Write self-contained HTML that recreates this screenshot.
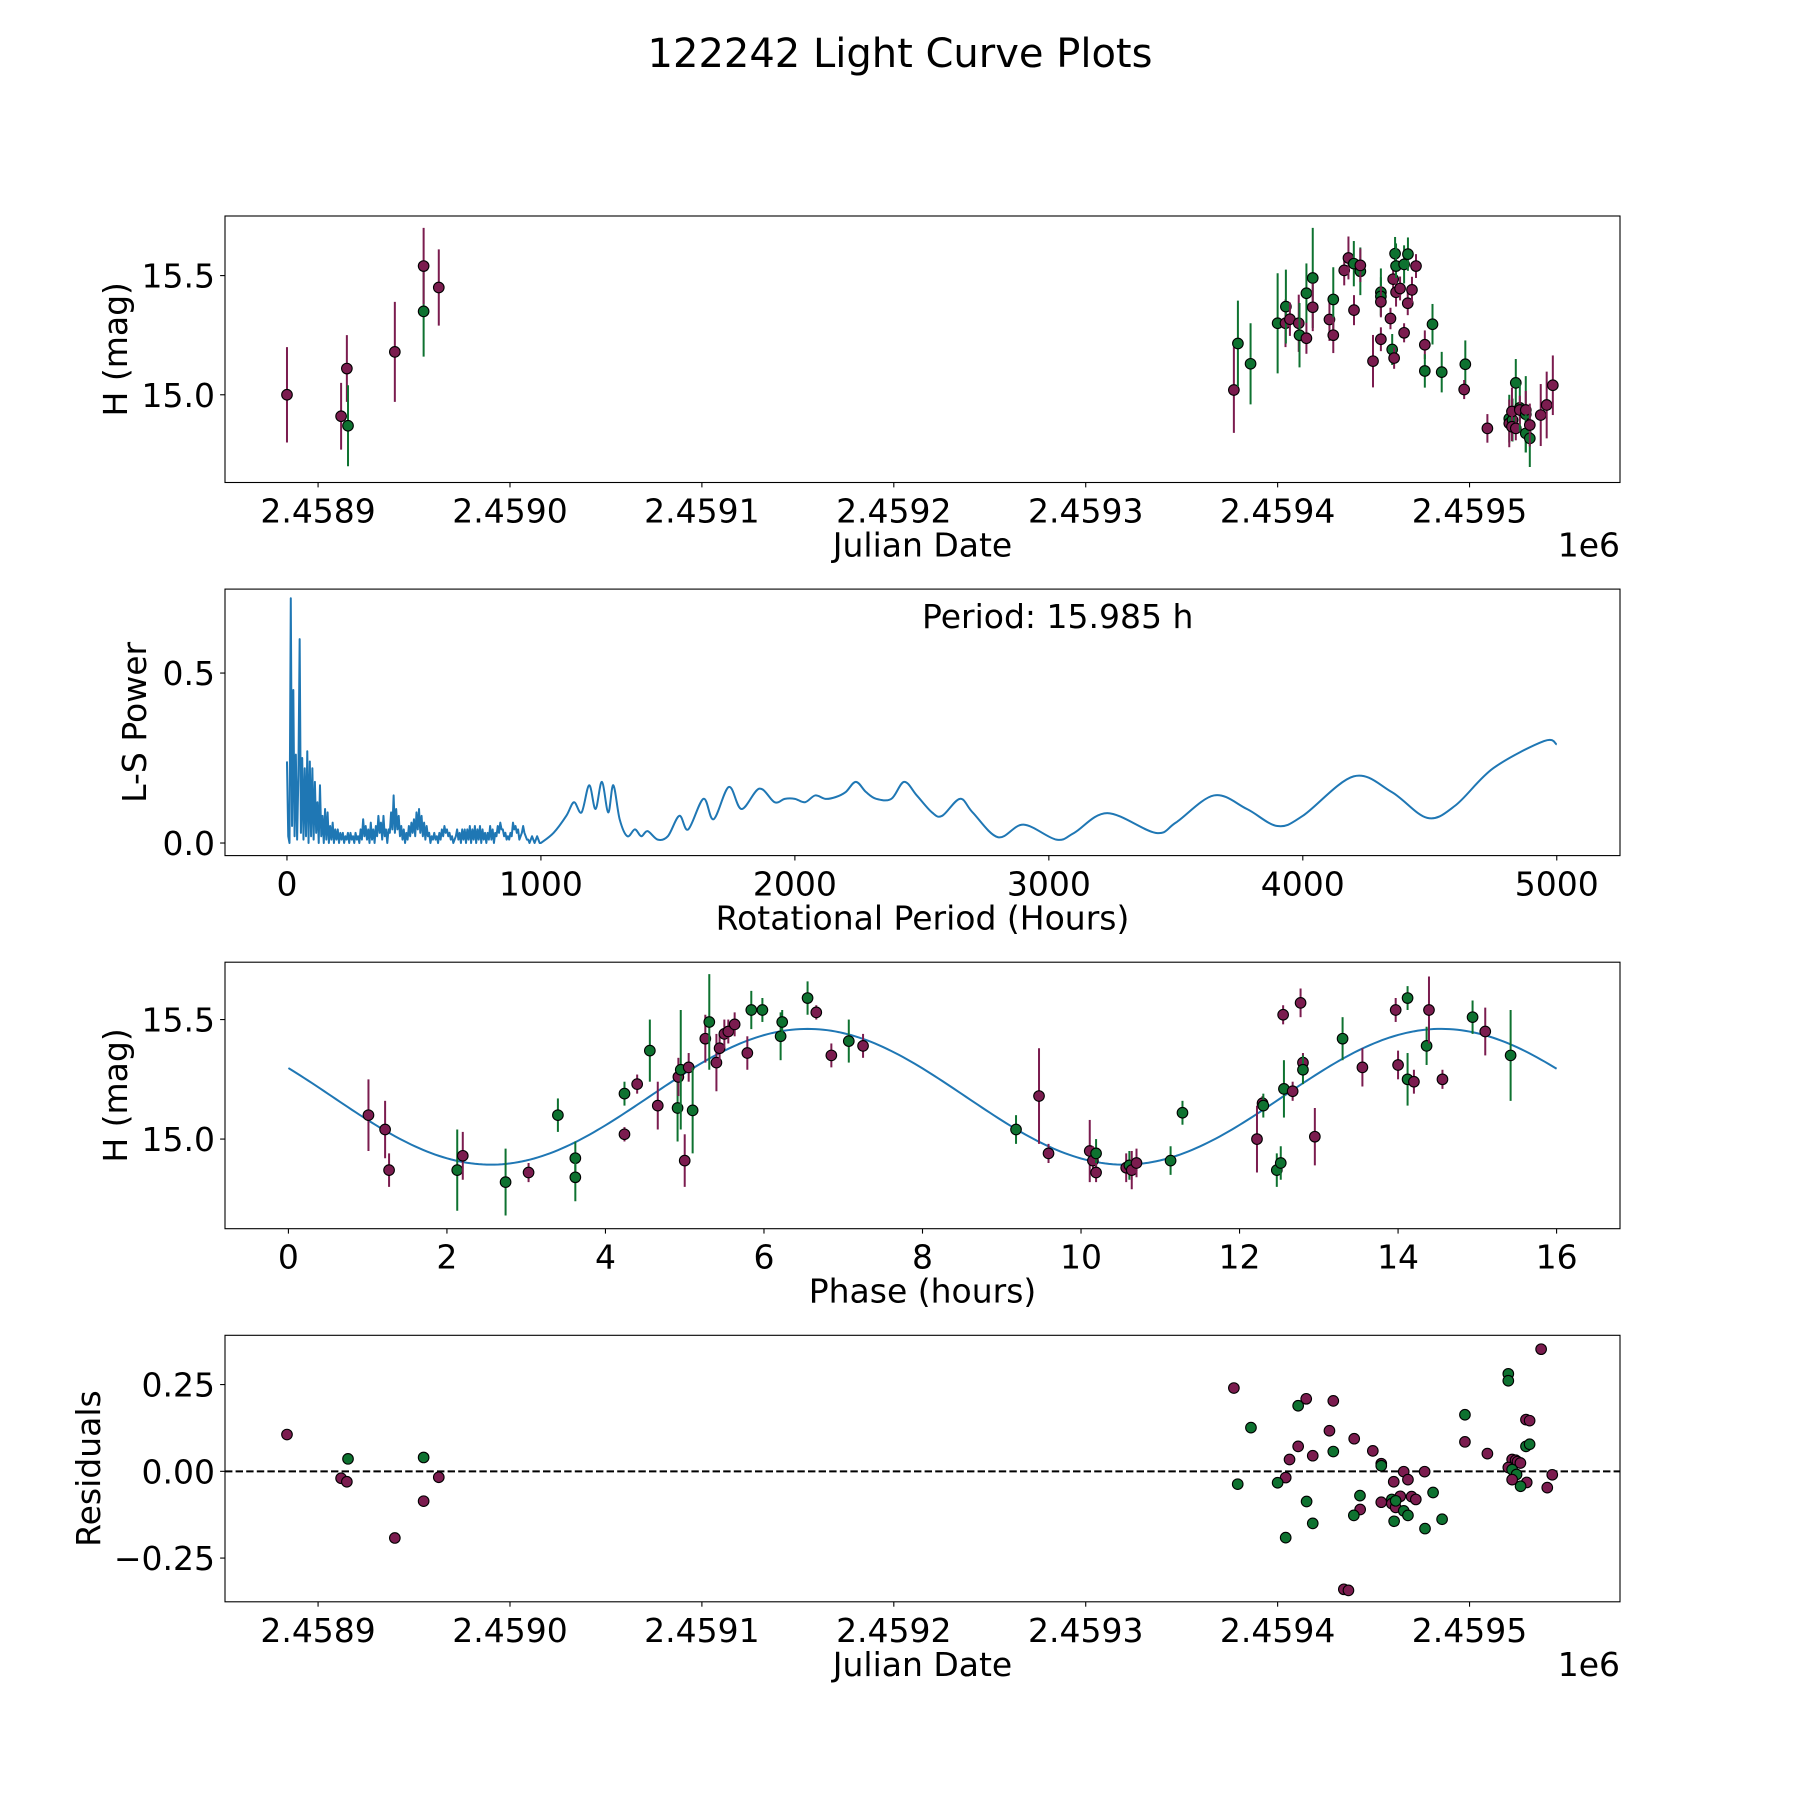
<!DOCTYPE html>
<html><head><meta charset="utf-8"><title>122242 Light Curve Plots</title>
<style>
html,body{margin:0;padding:0;background:#fff;}
svg{display:block;font-family:"DejaVu Sans","Liberation Sans",sans-serif;}
</style></head>
<body>
<svg id="fig" width="1800" height="1800" viewBox="0 0 1800 1800">
<rect x="0" y="0" width="1800" height="1800" fill="#fff"/>
<text x="900" y="67" font-size="40" text-anchor="middle">122242 Light Curve Plots</text>
</svg>
<script>
// ---------- Panel 1: light curve (JD vs H) ----------
const p1JD = [2458883.8,2458912,2458915,2458915.6,2458940,2458955,2458955,2458962.9,
2459377.2,2459379.3,2459385.9,2459400,2459404.1,2459404.3,2459406.4,2459411,2459411.4,2459415,2459415,2459418.3,2459418.3,
2459427,2459429,2459429,2459434.7,2459436.9,2459439.7,2459439.8,2459443.1,2459443.1,2459449.7,2459453.8,2459453.8,2459453.8,2459453.8,
2459458.8,2459459.7,2459460.7,2459461.2,2459460.2,2459461.7,2459461.7,2459463.8,2459465.9,2459467.9,2459467.8,2459470,2459465.9,2459472.1,
2459476.7,2459476.7,2459480.7,2459485.5,2459497.8,2459497.2,2459509.3,2459524.1,2459520.7,2459520.7,2459522.4,2459522.1,2459522.1,2459524.1,
2459526.2,2459526.2,2459529.3,2459529.3,2459529.3,2459531.4,2459531.4,2459537.1,2459540.2,2459543.4];
const p1Mag = [15.00,14.91,15.11,14.87,15.18,15.35,15.54,15.45,
15.02,15.215,15.13,15.30,15.30,15.37,15.317,15.30,15.25,15.426,15.237,15.49,15.367,
15.316,15.40,15.25,15.522,15.574,15.55,15.355,15.518,15.543,15.141,15.43,15.413,15.39,15.233,
15.32,15.19,15.154,15.592,15.485,15.54,15.43,15.446,15.547,15.59,15.384,15.44,15.26,15.54,
15.21,15.10,15.296,15.095,15.128,15.022,14.859,15.05,14.90,14.88,14.894,14.93,14.866,14.859,
14.945,14.936,14.918,14.936,14.838,14.817,14.873,14.915,14.957,15.04];
const p1Err = [0.20,0.14,0.14,0.17,0.21,0.19,0.16,0.16,
0.18,0.18,0.17,0.21,0.10,0.155,0.07,0.12,0.135,0.125,0.065,0.21,0.10,
0.09,0.135,0.075,0.063,0.09,0.095,0.063,0.10,0.07,0.11,0.10,0.08,0.065,0.05,
0.045,0.065,0.045,0.07,0.07,0.095,0.06,0.05,0.08,0.07,0.05,0.055,0.04,0.05,
0.06,0.07,0.085,0.085,0.10,0.04,0.06,0.10,0.10,0.10,0.09,0.10,0.06,0.05,
0.10,0.06,0.16,0.08,0.08,0.12,0.09,0.13,0.14,0.125];
const p1Band = ['m','m','m','g','m','g','m','m',
'm','g','g','g','m','g','m','m','g','g','m','g','m',
'm','g','m','m','m','g','m','g','m','m','g','g','m','m',
'm','g','m','g','m','g','m','m','g','g','m','m','m','m',
'm','g','g','g','g','m','m','g','g','m','g','m','m','m',
'g','m','g','m','g','g','m','m','m','m'];
const p1XTicks = [2458900,2459000,2459100,2459200,2459300,2459400,2459500];
const p1XTickLabels = ['2.4589','2.4590','2.4591','2.4592','2.4593','2.4594','2.4595'];
const p1YTicks = [15.0,15.5];
const p1YTickLabels = ['15.0','15.5'];

// ---------- Panel 2: Lomb-Scargle periodogram ----------
const lsDenseStep = 5; // hours between dense samples, starting at 0
const lsDensePower = [
0.24,0.02,0.00,0.72,0.05,0.45,0.02,0.26,0.01,0.20,
0.60,0.03,0.25,0.01,0.22,0.02,0.27,0.00,0.24,0.02,
0.22,0.01,0.18,0.03,0.12,0.00,0.17,0.02,0.08,0.00,
0.10,0.01,0.09,0.00,0.05,0.01,0.06,0.00,0.04,0.01,
0.04,0.00,0.03,0.01,0.03,0.00,0.02,0.01,0.03,0.00,
0.03,0.01,0.02,0.00,0.03,0.01,0.02,0.00,0.04,0.01,
0.07,0.02,0.05,0.01,0.04,0.00,0.06,0.01,0.04,0.00,
0.05,0.02,0.08,0.03,0.06,0.01,0.08,0.02,0.04,0.00,
0.04,0.03,0.09,0.04,0.14,0.03,0.10,0.04,0.08,0.02,
0.05,0.01,0.04,0.00,0.03,0.01,0.05,0.02,0.06,0.03,
0.07,0.02,0.09,0.04,0.10,0.03,0.08,0.02,0.06,0.01,
0.05,0.02,0.03,0.00,0.02,0.01,0.03,0.01,0.02,0.00,
0.03,0.01,0.04,0.02,0.05,0.03,0.04,0.02,0.03,0.01,
0.02,0.00,0.01,0.02,0.04,0.01,0.03,0.00,0.04,0.01,
0.04,0.00,0.04,0.01,0.05,0.00,0.04,0.01,0.05,0.00,
0.04,0.01,0.05,0.00,0.04,0.01,0.03,0.00,0.03,0.01,
0.05,0.01,0.04,0.00,0.03,0.02,0.05,0.03,0.06,0.04,
0.04,0.02,0.03,0.01,0.02,0.01,0.03,0.02,0.06,0.04,
0.05,0.03,0.04,0.01,0.02,0.03,0.05,0.03,0.02,0.01,
0.01,0.00,0.01,0.02,0.01,0.00,0.01,0.02,0.01,0.00];
const lsSmoothPeriod = [1000,1050,1100,1130,1160,1190,1215,1240,1265,1285,1310,1340,1370,1395,1420,1460,1500,1545,1580,1640,1680,1740,1790,1860,1920,1960,2000,2040,2080,2120,2160,2200,2240,2280,2320,2380,2430,2480,2540,2580,2650,2700,2800,2900,3030,3100,3230,3420,3500,3650,3780,3900,4000,4200,4350,4490,4600,4750,4950,5000];
const lsSmoothPower = [0.00,0.03,0.08,0.12,0.09,0.17,0.10,0.18,0.09,0.17,0.07,0.02,0.04,0.02,0.035,0.01,0.02,0.08,0.04,0.13,0.07,0.165,0.10,0.16,0.12,0.13,0.13,0.12,0.14,0.13,0.135,0.15,0.18,0.15,0.13,0.13,0.18,0.14,0.09,0.08,0.13,0.09,0.017,0.054,0.01,0.03,0.088,0.03,0.06,0.14,0.10,0.05,0.08,0.196,0.15,0.074,0.11,0.22,0.30,0.29];
const p2XTicks = [0,1000,2000,3000,4000,5000];
const p2XTickLabels = ['0','1000','2000','3000','4000','5000'];
const p2YTicks = [0.0,0.5];
const p2YTickLabels = ['0.0','0.5'];
const periodLabel = 'Period: 15.985 h';

// ---------- Panel 3: phase-folded ----------
const p3Phase = [1.01,1.22,1.27,2.13,2.2,2.74,3.03,3.4,3.62,3.62,4.24,4.24,4.4,4.56,4.66,4.91,4.92,4.95,5.0,5.05,5.1,5.26,5.31,5.4,5.44,5.5,5.55,5.63,5.79,5.84,5.98,6.21,6.23,6.55,6.66,6.85,7.07,7.25,
9.18,9.47,9.59,10.11,10.15,10.19,10.19,10.57,10.61,10.64,10.7,11.13,11.28,12.22,12.29,12.3,12.47,12.52,12.56,12.55,12.67,12.77,12.8,12.8,12.95,13.3,13.55,14.0,13.97,14.12,14.12,14.2,14.36,14.39,14.56,14.94,15.1,15.42];
const p3Mag = [15.10,15.04,14.87,14.87,14.93,14.82,14.86,15.10,14.92,14.84,15.02,15.19,15.23,15.37,15.14,15.13,15.26,15.29,14.91,15.30,15.12,15.42,15.49,15.32,15.38,15.44,15.45,15.48,15.36,15.54,15.54,15.43,15.49,15.59,15.53,15.35,15.41,15.39,
15.04,15.18,14.94,14.95,14.91,14.94,14.86,14.88,14.89,14.87,14.90,14.91,15.11,15.0,15.15,15.14,14.87,14.90,15.21,15.52,15.20,15.57,15.32,15.29,15.01,15.42,15.30,15.31,15.54,15.59,15.25,15.24,15.39,15.54,15.25,15.51,15.45,15.35];
const p3Err = [0.15,0.12,0.07,0.17,0.10,0.14,0.04,0.07,0.07,0.10,0.03,0.05,0.04,0.13,0.10,0.14,0.08,0.25,0.11,0.06,0.18,0.10,0.20,0.12,0.06,0.06,0.05,0.05,0.07,0.08,0.05,0.10,0.05,0.07,0.03,0.05,0.09,0.05,
0.06,0.20,0.04,0.13,0.06,0.06,0.04,0.06,0.06,0.08,0.06,0.06,0.05,0.14,0.03,0.05,0.07,0.07,0.12,0.04,0.04,0.06,0.04,0.06,0.12,0.09,0.08,0.06,0.05,0.05,0.11,0.05,0.08,0.14,0.04,0.07,0.10,0.19];
const p3Band = ['m','m','m','g','m','g','m','g','g','g','m','g','m','g','m','g','m','g','m','m','g','m','g','m','m','m','m','m','m','g','g','g','g','g','m','m','g','m',
'g','m','m','m','m','g','m','m','g','m','m','g','g','m','m','g','g','g','g','m','m','m','m','g','m','g','m','m','m','g','g','m','g','m','m','g','m','g'];
const fitMean = [15.177];
const fitAmp = [0.284];
const fitHalfPeriod = [7.9925];
const fitPeakPhase = [6.55];
const p3XTicks = [0,2,4,6,8,10,12,14,16];
const p3XTickLabels = ['0','2','4','6','8','10','12','14','16'];
const p3YTicks = [15.0,15.5];
const p3YTickLabels = ['15.0','15.5'];

// ---------- Panel 4: residuals ----------
const p4JD = [2458883.8,2458915.6,2458912,2458915,2458940,2458955,2458955,2458962.9,
2459377.2,2459379.2,2459386.1,2459414.9,2459410.7,2459429,2459427,2459439.9,2459410.7,2459418.3,2459429,2459406.2,2459404.2,2459400,2459415.1,2459418.3,2459404.2,
2459449.6,2459454,2459454,2459465.7,2459476.6,2459467.9,2459460.5,2459442.9,2459443,2459439.7,2459454,2459459.5,2459459.5,2459461.5,2459463.9,2459461.5,2459469.8,2459472,
2459465.7,2459467.9,2459460.7,2459476.8,2459481,2459485.7,2459434.5,2459436.9,2459497.6,2459497.6,2459509.3,2459520.2,2459520.2,2459522.2,2459524,2459525,2459526.5,
2459520.2,2459522.2,2459524.5,2459522.2,2459529.8,2459526.6,2459529.4,2459531.3,2459529.4,2459531.3,2459537.3,2459540.5,2459543.1];
const p4Resid = [0.106,0.036,-0.02,-0.03,-0.192,0.04,-0.086,-0.017,
0.240,-0.037,0.126,0.209,0.189,0.203,0.117,0.094,0.072,0.045,0.057,0.034,-0.018,-0.033,-0.087,-0.150,-0.191,
0.059,0.022,0.016,-0.001,-0.001,-0.024,-0.03,-0.07,-0.11,-0.127,-0.089,-0.081,-0.093,-0.104,-0.072,-0.085,-0.073,-0.081,
-0.114,-0.127,-0.144,-0.165,-0.061,-0.138,-0.340,-0.343,0.163,0.085,0.051,0.281,0.261,0.034,0.032,0.028,0.024,
0.011,0.005,-0.009,-0.024,-0.032,-0.043,0.072,0.078,0.149,0.146,0.352,-0.047,-0.010];
const p4Band = ['m','g','m','m','m','g','m','m',
'm','g','g','m','g','m','m','m','m','m','g','m','m','g','g','g','g',
'm','m','g','m','m','m','m','g','m','g','m','g','m','m','m','g','m','m',
'g','g','g','g','g','g','m','m','g','m','m','g','g','m','m','m','m',
'm','g','g','m','m','g','g','g','m','m','m','m','m'];
const p4YTicks = [-0.25,0,0.25];
const p4YTickLabels = ['\u22120.25','0.00','0.25'];

// ---------- rendering ----------
const svg = document.getElementById('fig');
const NS = svg.namespaceURI;
const COLORS = {m:'#7b1c4f', g:'#0e7230'};
const AX_L = 225, AX_R = 1620, AX_W = AX_R - AX_L, AX_H = 266.5;
const TOPS = [216, 589.1, 962.2, 1335.3];
const TICK_FS = 33;

function mk(tag, attrs, name, parent) {
  const el = document.createElementNS(NS, tag);
  for (const k in attrs) el.setAttribute(k, attrs[k]);
  
  
  (parent || svg).appendChild(el);
  return el;
}

function makeAxes(idx, xmin, xmax, ymin, ymax, key) {
  const top = TOPS[idx];
  const g = mk('g', {}, key + '-axes');
  const sx = v => AX_L + (v - xmin) / (xmax - xmin) * AX_W;
  const sy = v => top + AX_H - (v - ymin) / (ymax - ymin) * AX_H;
  const clip = mk('clipPath', {id: 'clip' + idx}, key + '-clip', g);
  mk('rect', {x: AX_L, y: top, width: AX_W, height: AX_H}, key + '-clip-rect', clip);
  const data = mk('g', {'clip-path': 'url(#clip' + idx + ')'}, key + '-data', g);
  return {g, sx, sy, top, bottom: top + AX_H, data, key};
}

function frame(ax) {
  mk('rect', {x: AX_L, y: ax.top, width: AX_W, height: AX_H, fill: 'none', stroke: '#000', 'stroke-width': 1.1}, ax.key + '-frame', ax.g);
}

function xTicks(ax, ticks, labels) {
  ticks.forEach((t, i) => {
    const x = ax.sx(t);
    mk('line', {x1: x, x2: x, y1: ax.bottom, y2: ax.bottom + 4.9, stroke: '#000', 'stroke-width': 1.1}, ax.key + '-x-tick', ax.g);
    const tx = mk('text', {x: x, y: ax.bottom + 40, 'font-size': TICK_FS, 'text-anchor': 'middle'}, ax.key + '-x-tick-label', ax.g);
    tx.textContent = labels[i];
  });
}
function yTicks(ax, ticks, labels) {
  ticks.forEach((t, i) => {
    const y = ax.sy(t);
    mk('line', {x1: AX_L - 4.9, x2: AX_L, y1: y, y2: y, stroke: '#000', 'stroke-width': 1.1}, ax.key + '-y-tick', ax.g);
    const tx = mk('text', {x: AX_L - 10, y: y + 12, 'font-size': TICK_FS, 'text-anchor': 'end'}, ax.key + '-y-tick-label', ax.g);
    tx.textContent = labels[i];
  });
}
function xLabel(ax, text, offsetPx) {
  const t = mk('text', {x: (AX_L + AX_R) / 2, y: ax.bottom + offsetPx, 'font-size': 33, 'text-anchor': 'middle'}, ax.key + '-x-axis-title', ax.g);
  t.textContent = text;
}
function yLabel(ax, text, xc) {
  const yc = ax.top + AX_H / 2;
  const t = mk('text', {x: xc, y: yc, 'font-size': 33, 'text-anchor': 'middle', transform: 'rotate(-90 ' + xc + ' ' + yc + ')'}, ax.key + '-y-axis-title', ax.g);
  t.textContent = text;
}
function offsetText(ax) {
  const t = mk('text', {x: AX_R, y: ax.bottom + 74, 'font-size': TICK_FS, 'text-anchor': 'end'}, ax.key + '-offset-label', ax.g);
  t.textContent = '1e6';
}
function errPoints(ax, xs, ys, es, bands, sx, sy) {
  for (let i = 0; i < xs.length; i++) {
    if (es) {
      mk('line', {x1: sx(xs[i]), x2: sx(xs[i]), y1: sy(ys[i] - es[i]), y2: sy(ys[i] + es[i]), stroke: COLORS[bands[i]], 'stroke-width': 2}, ax.key + '-error-bar', ax.data);
    }
    mk('circle', {cx: sx(xs[i]), cy: sy(ys[i]), r: 5.3, fill: COLORS[bands[i]], stroke: '#000', 'stroke-width': 1.1}, ax.key + '-point-' + (bands[i] === 'm' ? 'magenta' : 'green'), ax.data);
  }
}

// Panel 1
const a1 = makeAxes(0, 2458851.5, 2459578.4, 14.632, 15.75, 'lightcurve');
errPoints(a1, p1JD, p1Mag, p1Err, p1Band, a1.sx, a1.sy);
frame(a1); xTicks(a1, p1XTicks, p1XTickLabels); yTicks(a1, p1YTicks, p1YTickLabels);
xLabel(a1, 'Julian Date', 74); yLabel(a1, 'H (mag)', 127); offsetText(a1);

// Panel 2
const a2 = makeAxes(1, -244, 5249, -0.037, 0.747, 'periodogram');
let d = '';
lsDensePower.forEach((p, i) => { d += (i ? 'L' : 'M') + a2.sx(i * lsDenseStep).toFixed(2) + ' ' + a2.sy(p).toFixed(2); });
const pts = lsSmoothPeriod.map((p, i) => [a2.sx(p), a2.sy(lsSmoothPower[i])]);
d += 'L' + pts[0][0].toFixed(2) + ' ' + pts[0][1].toFixed(2);
for (let i = 0; i < pts.length - 1; i++) {
  const p0 = pts[Math.max(0, i - 1)], p1 = pts[i], p2 = pts[i + 1], p3 = pts[Math.min(pts.length - 1, i + 2)];
  const c1 = [p1[0] + (p2[0] - p0[0]) / 6, p1[1] + (p2[1] - p0[1]) / 6];
  const c2 = [p2[0] - (p3[0] - p1[0]) / 6, p2[1] - (p3[1] - p1[1]) / 6];
  d += 'C' + c1[0].toFixed(2) + ' ' + c1[1].toFixed(2) + ' ' + c2[0].toFixed(2) + ' ' + c2[1].toFixed(2) + ' ' + p2[0].toFixed(2) + ' ' + p2[1].toFixed(2);
}
mk('path', {d: d, fill: 'none', stroke: '#1f77b4', 'stroke-width': 2, 'stroke-linejoin': 'round'}, 'periodogram-line', a2.data);
frame(a2); xTicks(a2, p2XTicks, p2XTickLabels); yTicks(a2, p2YTicks, p2YTickLabels);
xLabel(a2, 'Rotational Period (Hours)', 74); yLabel(a2, 'L-S Power', 146);
const pl = mk('text', {x: 922, y: 628, 'font-size': 33}, 'period-annotation', a2.g);
pl.textContent = periodLabel;

// Panel 3
const a3 = makeAxes(2, -0.8, 16.8, 14.625, 15.74, 'phase');
let fd = '';
for (let k = 0; k <= 320; k++) {
  const ph = k * 16 / 320;
  const v = fitMean[0] + fitAmp[0] * Math.cos(2 * Math.PI * (ph - fitPeakPhase[0]) / fitHalfPeriod[0]);
  fd += (k ? 'L' : 'M') + a3.sx(ph).toFixed(2) + ' ' + a3.sy(v).toFixed(2);
}
mk('path', {d: fd, fill: 'none', stroke: '#1f77b4', 'stroke-width': 2}, 'fit-curve', a3.data);
errPoints(a3, p3Phase, p3Mag, p3Err, p3Band, a3.sx, a3.sy);
frame(a3); xTicks(a3, p3XTicks, p3XTickLabels); yTicks(a3, p3YTicks, p3YTickLabels);
xLabel(a3, 'Phase (hours)', 74); yLabel(a3, 'H (mag)', 127);

// Panel 4
const a4 = makeAxes(3, 2458851.5, 2459578.4, -0.376, 0.392, 'residuals');
mk('line', {x1: AX_L, x2: AX_R, y1: a4.sy(0), y2: a4.sy(0), stroke: '#000', 'stroke-width': 2, 'stroke-dasharray': '7.4 3.2'}, 'zero-line', a4.data);
errPoints(a4, p4JD, p4Resid, null, p4Band, a4.sx, a4.sy);
frame(a4); xTicks(a4, p1XTicks, p1XTickLabels); yTicks(a4, p4YTicks, p4YTickLabels);
xLabel(a4, 'Julian Date', 74); yLabel(a4, 'Residuals', 100); offsetText(a4);
</script>
</body></html>
